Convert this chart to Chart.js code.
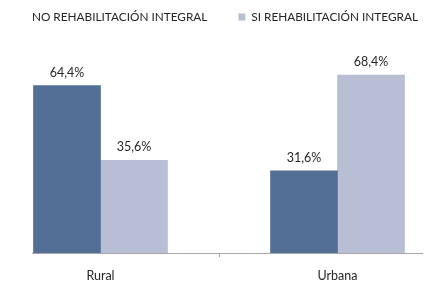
<!DOCTYPE html>
<html><head><meta charset="utf-8">
<script src="https://cdn.jsdelivr.net/npm/chart.js@4/dist/chart.umd.min.js"></script>
<style>html,body{margin:0;padding:0;background:#fff;overflow:hidden}#w{width:448px;height:291px}</style>
</head><body><div id="w"><canvas id="c" width="448" height="291"></canvas></div>
<script>
const categories = ['Rural', 'Urbana'];
const seriesNames = ['NO REHABILITACIÓN INTEGRAL', 'SI REHABILITACIÓN INTEGRAL'];
const noRehab = [64.4, 31.6];
const siRehab = [35.6, 68.4];
const colors = ['#536f96', '#b8bfd4'];
const FONT = 'Lato, "Open Sans", sans-serif';

const toPts = arr => arr.map((v, i) => ({x: i, y: v}));
const fmt = v => v.toFixed(1).replace('.', ',') + '%';

const labelPlugin = {
  id: 'vlabels',
  afterDatasetsDraw(chart) {
    const ctx = chart.ctx;
    ctx.save();
    ctx.font = '12.5px ' + FONT;
    ctx.fillStyle = '#262626';
    ctx.textAlign = 'center';
    ctx.textBaseline = 'middle';
    chart.data.datasets.forEach((ds, di) => {
      chart.getDatasetMeta(di).data.forEach((bar, i) => {
        ctx.fillText(fmt(ds.data[i].y), bar.x, bar.y - 13);
      });
    });
    ctx.restore();
  }
};

new Chart(document.getElementById('c'), {
  type: 'bar',
  data: {
    datasets: [
      {label: seriesNames[0], data: toPts(noRehab), backgroundColor: colors[0], barThickness: 67},
      {label: seriesNames[1], data: toPts(siRehab), backgroundColor: colors[1], barThickness: 67}
    ]
  },
  options: {
    responsive: false,
    animation: false,
    devicePixelRatio: 1,
    layout: {padding: {top: -20, left: -31, right: -20, bottom: 0}},
    plugins: {
      tooltip: {enabled: false},
      legend: {
        position: 'top',
        labels: {
          font: {family: FONT, size: 11.8},
          color: '#262626',
          boxWidth: 7,
          boxHeight: 7,
          padding: 31,
          generateLabels(chart) {
            return chart.data.datasets.map((ds, i) => ({
              text: ds.label,
              fillStyle: i === 0 ? 'rgba(0,0,0,0)' : ds.backgroundColor,
              strokeStyle: 'rgba(0,0,0,0)',
              lineWidth: 0,
              fontColor: '#262626',
              datasetIndex: i
            }));
          }
        }
      }
    },
    scales: {
      x: {
        type: 'linear',
        offset: false,
        min: -0.289,
        max: 1.3565,
        afterBuildTicks(s) { s.ticks = [{value: 0}, {value: 0.5}, {value: 1}]; },
        afterFit(s) { s.height = 38; },
        ticks: {
          autoSkip: false,
          maxRotation: 0,
          padding: 11,
          font: {family: FONT, size: 12.5},
          color: '#262626',
          callback: v => (Number.isInteger(v) ? categories[v] : '')
        },
        grid: {
          offset: false,
          drawOnChartArea: false,
          tickLength: 4,
          tickColor: c => (c.tick && c.tick.value === 0.5 ? '#a6a6a6' : 'rgba(0,0,0,0)')
        },
        border: {color: '#a6a6a6', width: 1}
      },
      y: {
        min: 0,
        max: 84.7,
        afterFit(s) { s.width = 63; },
        ticks: {display: false},
        grid: {display: false},
        border: {display: false}
      },
      yR: {
        position: 'right',
        min: 0,
        max: 1,
        afterFit(s) { s.width = 46; },
        ticks: {display: false},
        grid: {display: false},
        border: {display: false}
      }
    }
  },
  plugins: [labelPlugin]
});
</script></body></html>
